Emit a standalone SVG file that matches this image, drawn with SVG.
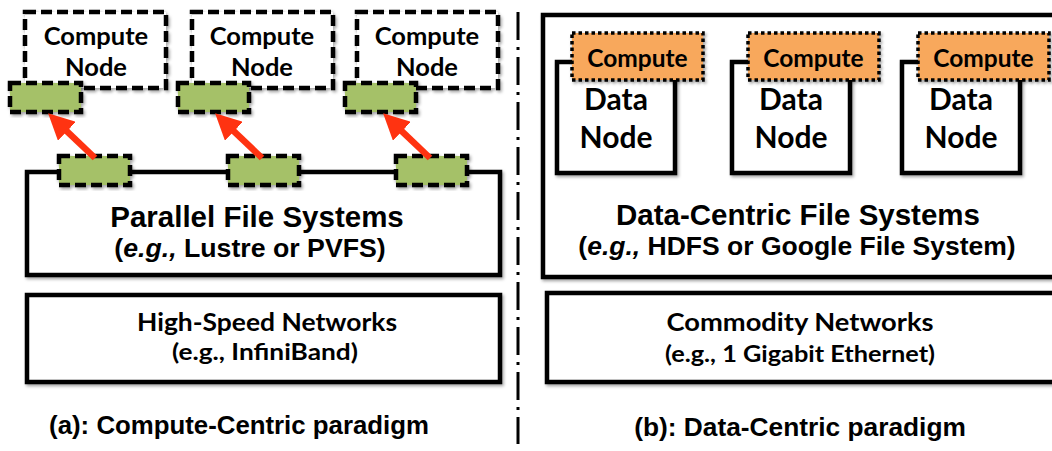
<svg xmlns="http://www.w3.org/2000/svg" width="1052" height="451" viewBox="0 0 1052 451">
  <defs>
    <filter id="shadow" x="-10%" y="-10%" width="120%" height="130%">
      <feDropShadow dx="1.5" dy="2" stdDeviation="1.5" flood-color="#000" flood-opacity="0.35"/>
    </filter>
    <marker id="head" markerUnits="userSpaceOnUse" markerWidth="26" markerHeight="26" viewBox="0 0 26 26" refX="1" refY="13" orient="auto">
      <path d="M0,0 L26,13 L0,26 z" fill="#ff3311"/>
    </marker>
    <style>
      .box { fill: #fff; stroke: #000; stroke-width: 4.5; filter: url(#shadow); }
      .dash { fill: #fff; stroke: #000; stroke-width: 4.5; stroke-dasharray: 11 5; filter: url(#shadow); }
      .port { fill: #a5c168; stroke: #000; stroke-width: 4.5; stroke-dasharray: 11 5; filter: url(#shadow); }
      .task { fill: #f8a85c; stroke: #000; stroke-width: 3.5; stroke-dasharray: 3.5 3; filter: url(#shadow); }
      .arrow { stroke: #ff3311; stroke-width: 6.5; fill: none; marker-end: url(#head); }
      .cal { font-family: Lato, "Open Sans", sans-serif; font-weight: bold; fill: #000; text-anchor: middle; }
      .ari { font-family: "Liberation Sans", Arial, sans-serif; font-weight: bold; fill: #000; text-anchor: middle; }
      .divider { stroke: #000; stroke-width: 3; stroke-dasharray: 28 7 3 7; fill: none; }
    </style>
  </defs>
  <rect width="1052" height="451" fill="#fff"/>

  <!-- (a) compute-centric paradigm -->
  <g id="network-a">
    <rect class="box" x="27" y="295" width="473" height="87"/>
    <text class="cal" x="267" y="331" font-size="25.5" textLength="260" lengthAdjust="spacingAndGlyphs">High-Speed Networks</text>
    <text class="cal" x="265" y="360" font-size="23" textLength="186" lengthAdjust="spacingAndGlyphs">(e.g., InfiniBand)</text>
  </g>

  <g id="pfs">
    <rect class="box" x="27" y="172" width="473" height="103"/>
    <text class="ari" x="257" y="227" font-size="29.5">Parallel File Systems</text>
    <text class="ari" x="250" y="257" font-size="26.7">(<tspan font-style="italic">e.g.,</tspan> Lustre or PVFS)</text>
  </g>

  <g id="compute-node-1">
    <rect class="dash" x="25" y="12" width="141" height="76"/>
    <text class="cal" x="96" y="45" font-size="25.5">Compute</text>
    <text class="cal" x="96" y="76" font-size="25.5">Node</text>
    <rect class="port" x="10" y="83" width="71" height="29"/>
  </g>
  <g id="compute-node-2">
    <rect class="dash" x="192" y="12" width="141" height="76"/>
    <text class="cal" x="262" y="45" font-size="25.5">Compute</text>
    <text class="cal" x="262" y="76" font-size="25.5">Node</text>
    <rect class="port" x="178" y="83" width="71" height="29"/>
  </g>
  <g id="compute-node-3">
    <rect class="dash" x="357" y="12" width="141" height="76"/>
    <text class="cal" x="427" y="45" font-size="25.5">Compute</text>
    <text class="cal" x="427" y="76" font-size="25.5">Node</text>
    <rect class="port" x="345" y="83" width="71" height="29"/>
  </g>

  <g id="pfs-ports">
    <rect class="port" x="59" y="156" width="71" height="29"/>
    <rect class="port" x="228" y="156" width="71" height="29"/>
    <rect class="port" x="396" y="156" width="71" height="29"/>
  </g>

  <g id="connectors">
    <line class="arrow" x1="95" y1="158" x2="66.2" y2="130.6"/>
    <line class="arrow" x1="262" y1="158" x2="233.2" y2="130.6"/>
    <line class="arrow" x1="430" y1="158" x2="401.2" y2="130.6"/>
  </g>

  <text class="ari" x="239" y="434" font-size="25.8">(a): Compute-Centric paradigm</text>

  <!-- separator between the two panels -->
  <line class="divider" x1="518" y1="12" x2="518" y2="444"/>

  <!-- (b) data-centric paradigm -->
  <g id="dcfs">
    <rect class="box" x="543" y="15" width="520" height="262"/>
    <text class="ari" x="798" y="225" font-size="29.5">Data-Centric File Systems</text>
    <text class="ari" x="797" y="255" font-size="26.5">(<tspan font-style="italic">e.g.,</tspan> HDFS or Google File System)</text>
  </g>

  <g id="data-node-1">
    <rect class="box" x="557" y="62" width="118" height="111"/>
    <text class="cal" x="616" y="110" font-size="30">Data</text>
    <text class="cal" x="616" y="148" font-size="30">Node</text>
    <rect class="task" x="572" y="33" width="131" height="47"/>
    <text class="cal" x="637.5" y="67" font-size="24.5">Compute</text>
  </g>
  <g id="data-node-2">
    <rect class="box" x="732" y="62" width="118" height="111"/>
    <text class="cal" x="791" y="110" font-size="30">Data</text>
    <text class="cal" x="791" y="148" font-size="30">Node</text>
    <rect class="task" x="748" y="33" width="131" height="47"/>
    <text class="cal" x="813.5" y="67" font-size="24.5">Compute</text>
  </g>
  <g id="data-node-3">
    <rect class="box" x="902" y="62" width="118" height="111"/>
    <text class="cal" x="961" y="110" font-size="30">Data</text>
    <text class="cal" x="961" y="148" font-size="30">Node</text>
    <rect class="task" x="918" y="33" width="131" height="47"/>
    <text class="cal" x="983.5" y="67" font-size="24.5">Compute</text>
  </g>

  <g id="network-b">
    <rect class="box" x="547" y="293" width="520" height="89"/>
    <text class="cal" x="800" y="331" font-size="25.5" textLength="267" lengthAdjust="spacingAndGlyphs">Commodity Networks</text>
    <text class="cal" x="800" y="362" font-size="23" textLength="270" lengthAdjust="spacingAndGlyphs">(e.g., 1 Gigabit Ethernet)</text>
  </g>

  <text class="ari" x="800" y="436" font-size="26.3">(b): Data-Centric paradigm</text>
</svg>
